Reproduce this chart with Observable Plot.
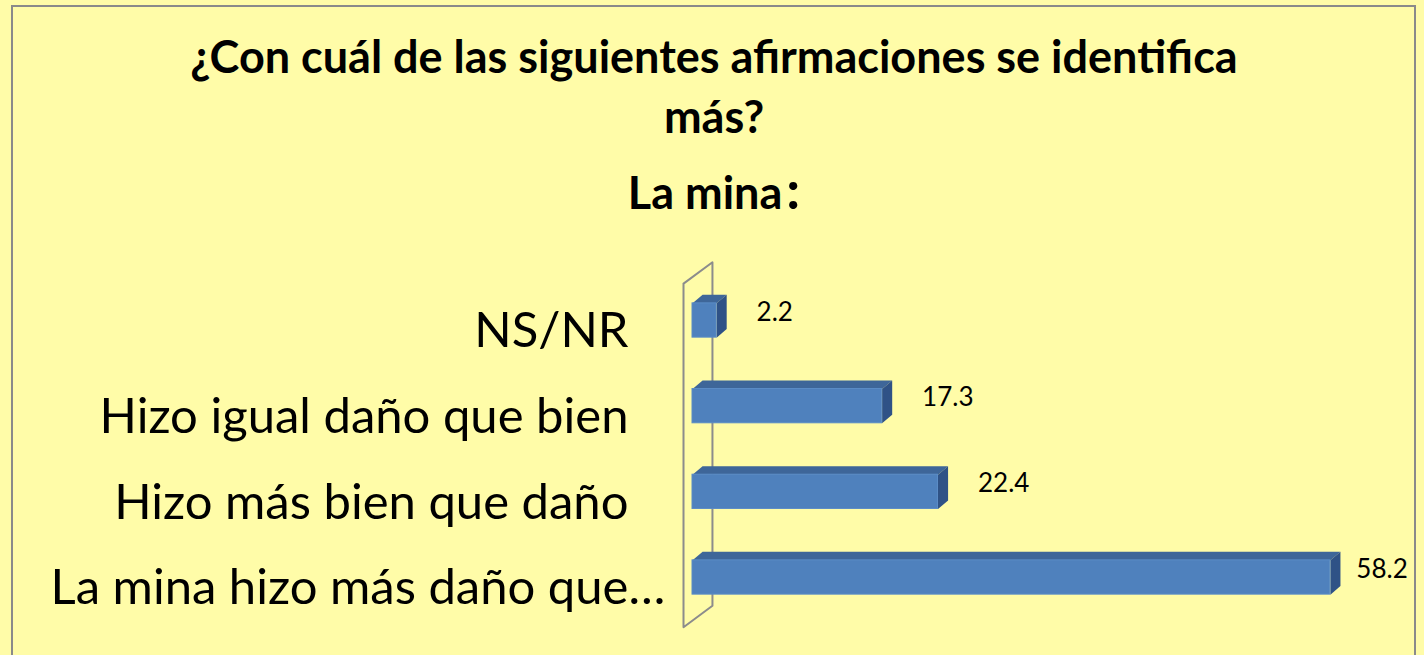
<!DOCTYPE html>
<html>
<head>
<meta charset="utf-8">
<script src="https://cdn.jsdelivr.net/npm/d3@7"></script>
<script src="https://cdn.jsdelivr.net/npm/@observablehq/plot@0.6"></script>
<style>
  html, body { margin: 0; padding: 0; background: #FFFCA8; }
  #wrap { position: relative; width: 1424px; height: 655px; overflow: hidden; background: #FFFCA8; font-family: Lato, "Open Sans", sans-serif; }
  #frame { position: absolute; left: 11px; top: 5px; width: 1405px; height: 700px; border: 2px solid #8a8a8a; box-sizing: border-box; }
  .t { position: absolute; left: 0; width: 1428px; text-align: center; font-weight: bold; color: #000; white-space: nowrap; line-height: 1.2; }
  #t1 { top: 29px; font-size: 45px; }
  #t2 { top: 89px; font-size: 45px; }
  #t3 { top: 157px; font-size: 45px; }
  #t3 .colon { font-size: 54px; margin-left: 4px; }
  #chart { position: absolute; left: 0; top: 240px; }
</style>
</head>
<body>
<div id="wrap">
  <div id="frame"></div>
  <div class="t" id="t1">¿Con cuál de las siguientes afirmaciones se identifica</div>
  <div class="t" id="t2">más?</div>
  <div class="t" id="t3">La mina<span class="colon">:</span></div>
  <div id="chart"></div>
</div>
<script>
// ---- data ----
const categories = ["NS/NR", "Hizo igual daño que bien", "Hizo más bien que daño", "La mina hizo más daño que…"];
const values = [2.2, 17.3, 22.4, 58.2];
const valueLabels = ["2.2", "17.3", "22.4", "58.2"];

// ---- 3D styling constants (in scale units) ----
const H = 0.2;      // half bar thickness (band units)
const DX = 0.92;    // depth offset along x (value units)
const DY = 0.10;    // depth offset along y (band units, upward)

const rows = categories.map((c, i) => ({
  i, category: c, value: values[i], label: valueLabels[i],
  main: c.replace(/…$/, ""), tail: c.endsWith("…") ? "…" : ""
}));

const topFaces = rows.flatMap(d => [
  {id: d.i, x: 0, y: d.i - H},
  {id: d.i, x: d.value, y: d.i - H},
  {id: d.i, x: d.value + DX, y: d.i - H - DY},
  {id: d.i, x: DX, y: d.i - H - DY}
]);
const sideFaces = rows.flatMap(d => [
  {id: d.i, x: d.value, y: d.i - H},
  {id: d.i, x: d.value + DX, y: d.i - H - DY},
  {id: d.i, x: d.value + DX, y: d.i + H - DY},
  {id: d.i, x: d.value, y: d.i + H}
]);

// back wall of the 3D category axis
const wall = [
  {x: -0.82, y: -0.43},
  {x: 1.82, y: -0.68},
  {x: 1.82, y: 3.33},
  {x: -0.82, y: 3.58},
  {x: -0.82, y: -0.43}
];

const chart = Plot.plot({
  width: 1424,
  height: 415,
  marginLeft: 692,
  marginRight: 74.4,
  marginTop: 80,
  marginBottom: 78,
  x: {domain: [0, 60], axis: null},
  y: {domain: [0, 3], reverse: true, axis: null},
  style: {background: "transparent", fontFamily: "Lato, 'Open Sans', sans-serif", color: "#000"},
  marks: [
    Plot.line(wall, {x: "x", y: "y", stroke: "#8c8c8c", strokeWidth: 2}),
    Plot.line(topFaces, {x: "x", y: "y", z: "id", fill: "#3E6699", stroke: "none"}),
    Plot.line(sideFaces, {x: "x", y: "y", z: "id", fill: "#2F5286", stroke: "none"}),
    Plot.rect(rows, {x1: 0, x2: "value", y1: d => d.i - H, y2: d => d.i + H, fill: "#4F81BD", stroke: "#5B8CC6", strokeWidth: 1}),
    Plot.text(rows.filter(d => d.value < 50), {x: "value", y: "i", text: "label", textAnchor: "start", dx: 40, dy: -8, fontSize: 26, fill: "#000"}),
    Plot.text(rows.filter(d => d.value >= 50), {x: "value", y: "i", text: "label", textAnchor: "start", dx: 26, dy: -8, fontSize: 26, fill: "#000"}),
    Plot.text(rows, {x: 0, y: "i", text: "main", textAnchor: "end", dx: -64, dy: 11, fontSize: 49, fill: "#000"}),
    Plot.text(rows.filter(d => d.tail), {x: 0, y: "i", text: "tail", textAnchor: "start", dx: -64, dy: 11, fontSize: 49, fill: "#000"})
  ]
});
document.getElementById("chart").appendChild(chart);
</script>
</body>
</html>
